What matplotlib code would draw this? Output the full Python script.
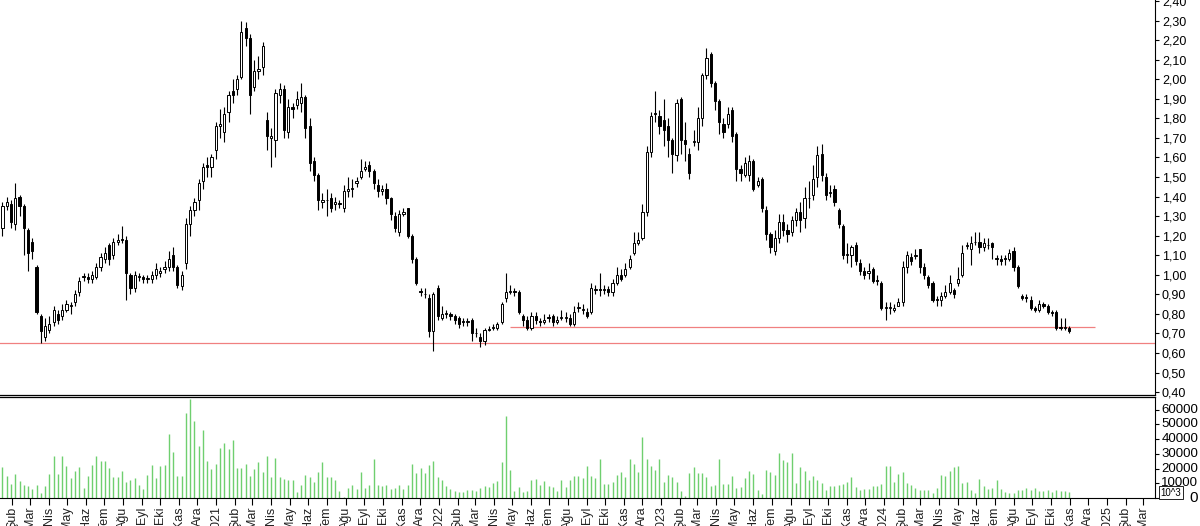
import matplotlib
matplotlib.use("Agg")
import matplotlib.pyplot as plt
import matplotlib.dates as mdates
import matplotlib.transforms as mtransforms
import numpy as np
import pandas as pd

plt.rcParams['font.family'] = ['Liberation Sans', 'DejaVu Sans']

opens = [1.24,1.35,1.36,1.26,1.40,1.35,1.23,1.17,1.04,0.79,0.68,0.72,0.76,0.80,0.79,0.82,0.84,0.86,0.91,0.995,
0.99,0.98,0.99,1.04,1.08,1.15,1.10,1.17,1.185,1.18,1.00,0.93,0.99,0.99,0.98,0.98,1.00,1.01,1.03,1.04,
1.10,1.04,0.94,1.06,1.26,1.33,1.38,1.48,1.56,1.55,1.64,1.76,1.73,1.83,1.94,1.95,2.01,2.26,2.21,1.96,
2.04,2.06,1.79,1.70,1.69,1.92,1.95,1.73,1.86,1.87,1.88,1.91,1.76,1.58,1.51,1.37,1.38,1.39,1.36,1.365,
1.34,1.43,1.44,1.47,1.50,1.54,1.56,1.53,1.46,1.43,1.44,1.39,1.30,1.22,1.31,1.34,1.20,1.08,0.915,0.90,
0.88,0.71,0.93,0.78,0.80,0.80,0.79,0.78,0.765,0.76,0.77,0.70,0.68,0.66,0.725,0.73,0.73,0.76,0.88,0.91,
0.915,0.91,0.79,0.77,0.73,0.79,0.765,0.76,0.785,0.79,0.76,0.78,0.78,0.78,0.75,0.83,0.82,0.81,0.81,0.92,
0.925,0.92,0.925,0.91,0.96,1.00,1.00,1.04,1.11,1.16,1.19,1.32,1.63,1.825,1.81,1.79,1.76,1.69,1.61,1.90,
1.69,1.62,1.68,1.68,1.80,2.02,2.13,1.98,1.89,1.77,1.77,1.84,1.72,1.54,1.51,1.51,1.58,1.46,1.49,1.33,
1.21,1.12,1.19,1.27,1.23,1.22,1.28,1.32,1.29,1.39,1.41,1.50,1.62,1.50,1.42,1.44,1.33,1.25,1.10,1.10,
1.15,1.06,1.02,1.01,1.03,0.975,0.96,0.83,0.83,0.82,0.84,0.86,1.04,1.09,1.095,1.13,1.04,0.99,0.96,0.875,
0.87,0.89,0.91,0.92,0.96,1.00,1.145,1.13,1.165,1.17,1.14,1.15,1.16,1.085,1.08,1.085,1.08,1.12,1.04,0.89,
0.885,0.87,0.83,0.82,0.85,0.84,0.81,0.81,0.735,0.73,0.73]
closes = [1.35,1.37,1.27,1.39,1.35,1.24,1.11,1.12,0.81,0.71,0.74,0.75,0.82,0.77,0.82,0.85,0.84,0.90,0.97,0.99,
0.98,1.00,1.04,1.09,1.11,1.08,1.17,1.18,1.18,1.01,0.93,1.00,0.995,0.98,0.98,1.00,1.03,1.02,1.04,1.08,
1.04,0.95,1.00,1.26,1.33,1.37,1.47,1.55,1.55,1.60,1.76,1.77,1.82,1.92,1.92,2.00,2.24,2.21,1.92,2.04,
2.05,2.17,1.71,1.71,1.93,1.95,1.74,1.86,1.85,1.90,1.91,1.75,1.57,1.51,1.38,1.38,1.38,1.34,1.37,1.36,
1.43,1.44,1.44,1.48,1.53,1.55,1.53,1.47,1.43,1.44,1.39,1.31,1.24,1.31,1.32,1.20,1.08,0.96,0.91,0.90,
0.71,0.90,0.79,0.80,0.80,0.79,0.77,0.75,0.76,0.765,0.70,0.70,0.66,0.72,0.72,0.735,0.75,0.85,0.91,0.915,
0.91,0.81,0.77,0.73,0.79,0.77,0.76,0.77,0.78,0.76,0.77,0.785,0.78,0.75,0.81,0.835,0.825,0.79,0.93,0.925,
0.92,0.925,0.91,0.96,1.00,0.98,1.03,1.08,1.16,1.18,1.32,1.63,1.81,1.82,1.76,1.74,1.69,1.62,1.88,1.69,
1.67,1.52,1.685,1.80,2.02,2.11,1.98,1.89,1.78,1.73,1.82,1.71,1.54,1.52,1.57,1.58,1.44,1.48,1.34,1.21,
1.14,1.19,1.27,1.23,1.21,1.28,1.32,1.28,1.39,1.395,1.49,1.61,1.51,1.41,1.425,1.37,1.26,1.10,1.10,1.14,
1.07,1.02,1.00,1.02,0.97,0.97,0.83,0.83,0.83,0.83,0.86,1.04,1.10,1.07,1.10,1.04,1.00,0.95,0.87,0.87,
0.89,0.91,0.96,0.90,0.98,1.11,1.15,1.16,1.17,1.14,1.16,1.15,1.14,1.08,1.07,1.08,1.11,1.04,0.94,0.88,
0.88,0.83,0.82,0.85,0.84,0.81,0.805,0.73,0.73,0.735,0.71]
highs = [1.37,1.40,1.38,1.47,1.41,1.36,1.24,1.19,1.05,0.80,0.78,0.79,0.84,0.82,0.85,0.87,0.86,0.92,0.99,1.01,
1.01,1.02,1.06,1.11,1.14,1.16,1.19,1.21,1.25,1.20,1.01,1.02,1.01,1.00,1.00,1.02,1.06,1.04,1.07,1.12,
1.14,1.05,1.02,1.29,1.35,1.39,1.49,1.57,1.60,1.62,1.78,1.85,1.86,1.94,2.00,2.02,2.30,2.29,2.23,2.10,
2.12,2.19,1.83,1.75,1.95,1.98,1.97,1.90,1.88,1.94,1.98,1.92,1.80,1.60,1.52,1.42,1.44,1.42,1.40,1.38,
1.46,1.50,1.49,1.50,1.59,1.58,1.58,1.54,1.49,1.46,1.47,1.40,1.32,1.33,1.34,1.34,1.21,1.09,0.93,0.93,
0.90,0.91,0.95,0.84,0.82,0.81,0.80,0.79,0.78,0.78,0.78,0.73,0.70,0.73,0.74,0.75,0.76,0.86,1.01,0.95,
0.93,0.92,0.80,0.79,0.81,0.81,0.78,0.80,0.80,0.80,0.79,0.82,0.81,0.80,0.84,0.86,0.85,0.83,0.96,0.95,
1.01,0.95,0.94,0.98,1.04,1.03,1.06,1.10,1.22,1.22,1.36,1.66,1.83,1.94,1.84,1.90,1.80,1.70,1.90,1.91,
1.78,1.65,1.74,1.86,2.03,2.16,2.14,1.99,1.90,1.80,1.86,1.86,1.73,1.56,1.60,1.61,1.59,1.50,1.50,1.35,
1.22,1.23,1.31,1.31,1.26,1.30,1.34,1.37,1.45,1.48,1.56,1.66,1.67,1.52,1.46,1.46,1.34,1.26,1.16,1.15,
1.17,1.08,1.04,1.06,1.04,1.00,0.97,0.86,0.86,0.85,0.88,1.07,1.12,1.11,1.13,1.13,1.06,1.00,0.97,0.89,
0.91,0.95,1.00,0.93,1.04,1.15,1.17,1.20,1.22,1.22,1.19,1.19,1.17,1.10,1.10,1.10,1.13,1.14,1.05,0.90,
0.90,0.89,0.84,0.87,0.86,0.85,0.82,0.82,0.78,0.78,0.74]
lows = [1.20,1.33,1.24,1.23,1.30,1.10,1.02,1.08,0.80,0.65,0.66,0.70,0.74,0.75,0.77,0.81,0.80,0.84,0.89,0.97,
0.96,0.96,0.98,1.02,1.06,1.05,1.08,1.15,1.16,0.87,0.90,0.91,0.97,0.96,0.96,0.96,0.98,0.99,1.01,1.02,
1.02,0.93,0.92,1.03,1.20,1.30,1.33,1.44,1.50,1.50,1.59,1.70,1.68,1.78,1.88,1.92,2.00,2.17,1.82,1.94,
2.00,2.02,1.64,1.55,1.60,1.88,1.70,1.70,1.80,1.85,1.83,1.70,1.53,1.48,1.33,1.34,1.30,1.32,1.33,1.34,
1.32,1.40,1.40,1.45,1.49,1.53,1.50,1.44,1.40,1.41,1.36,1.28,1.22,1.20,1.30,1.19,1.06,0.95,0.89,0.88,
0.68,0.61,0.77,0.77,0.78,0.77,0.75,0.73,0.74,0.74,0.66,0.68,0.63,0.64,0.71,0.72,0.72,0.75,0.86,0.90,
0.89,0.80,0.74,0.72,0.72,0.75,0.74,0.75,0.76,0.74,0.75,0.77,0.76,0.74,0.74,0.81,0.80,0.78,0.80,0.90,
0.89,0.90,0.89,0.89,0.95,0.97,0.99,1.03,1.10,1.15,1.18,1.30,1.60,1.78,1.72,1.66,1.60,1.52,1.58,1.62,
1.58,1.49,1.66,1.64,1.76,2.00,1.96,1.84,1.72,1.70,1.75,1.68,1.48,1.48,1.50,1.48,1.43,1.45,1.32,1.18,
1.11,1.10,1.16,1.20,1.17,1.20,1.25,1.22,1.24,1.34,1.38,1.45,1.48,1.38,1.40,1.35,1.24,1.08,1.06,1.04,
1.05,1.00,0.98,0.98,0.96,0.95,0.82,0.77,0.80,0.81,0.84,0.84,1.01,1.05,1.08,1.01,0.98,0.93,0.86,0.84,
0.84,0.88,0.90,0.88,0.94,0.99,1.13,1.05,1.15,1.11,1.12,1.13,1.08,1.05,1.05,1.05,1.07,1.02,0.93,0.87,
0.86,0.82,0.81,0.81,0.83,0.80,0.79,0.72,0.72,0.72,0.70]

volume_k = [21,14.7,9.7,16.5,11.3,9,8.4,6.3,8.6,3.4,7.9,16.5,28.7,16.5,28.7,21.9,13.6,18.3,21,6.8,
15.1,22.4,28.7,25.3,25.3,20.1,14.2,14.2,18.3,11.1,12.4,13.6,9,6.1,15.4,22.4,13.8,21.5,22.4,43.4,
31.2,15.1,15.1,58,67,52.4,35.5,46.1,25.3,19.7,23.3,34.1,37.7,33.4,39.6,20.3,20.3,23.3,14.7,19.7,
24.4,17.9,28.7,14.2,27.1,14.2,12.9,12,12.4,4.1,9,15.6,14.2,11.1,17.9,24.4,14.2,14.2,12.4,4.5,
0.7,6.8,8.8,6.1,17.4,6.6,8.8,26.4,9,8.4,9,6.1,6.8,9,6.3,9,23.3,17,20.1,17,
22.4,25.5,14.2,12.4,7.9,6.1,5,4.3,4.3,5.2,5.7,4.5,6.8,8.4,7.5,10.2,11.8,24.4,55.8,18.8,
4.5,7.5,3.8,4.5,12,12.9,9,11.3,7.9,7.7,4.5,12.4,7.5,12.4,15.1,15.1,13.6,21.5,15.1,13.3,
26.4,9.7,9.7,10.6,15.8,17.4,14.2,26.7,23.3,17.4,41.4,26.4,21.5,18.8,26.4,10.6,15.8,14.2,11.1,4.5,
1.1,17,21,17,17,14.2,7.9,9,26.7,9.7,9.7,15.1,6.8,7.5,13.6,18.1,16.5,5.7,2.9,18.8,
17.4,15.8,30.5,26,24.2,30.5,10.2,21,18.3,12.4,15.1,12,10.2,5.7,7.9,8.4,9,9.7,10.8,14.2,
7.5,5.7,6.1,6.1,7.9,8.4,9.5,22.1,21.9,10.6,16.3,17.4,10.2,9,6.8,5.7,5.2,5.7,3.4,6.8,
15.4,14.7,18.5,20.8,21.5,10.2,11.1,5.7,3.4,12.9,7.9,6.3,6.8,12.4,6.1,4.1,3.4,3.4,5.2,5.7,
6.6,5.2,6.6,5,4.7,5.5,4.3,5.2,4.6,5.0,4.4]

volume_ticks = [0, 10000, 20000, 30000, 40000, 50000, 60000]
month_names = ["", "Şub", "Mar", "Nis", "May", "Haz", "Tem", "Ağu", "Eyl", "Eki", "Kas", "Ara"]
support_low = 0.65
support_high = 0.735

n = len(opens)
dates = pd.date_range(end="2024-10-31", periods=n, freq="7D")
xd = mdates.date2num(dates)

fig = plt.figure(figsize=(12, 5.26), dpi=100)
ax = fig.add_axes([0.0, 0.249, 0.9625, 0.751])
axv = fig.add_axes([0.0, 28 / 526, 0.9625, 101 / 526], sharex=ax)

w = 3.6
for x, o, h, l, c in zip(xd, opens, highs, lows, closes):
    up = c >= o
    ax.vlines(x, l, h, color="black", lw=0.8, zorder=1)
    ax.bar(x, max(abs(c - o), 0.004), bottom=min(o, c), width=w,
           color="white" if up else "black", edgecolor="black", lw=0.7, zorder=2)

x_left = xd[0] - 4
x_right = mdates.date2num(pd.Timestamp("2025-03-21"))
ax.set_xlim(x_left, x_right)
ax.set_ylim(0.385, 2.405)

ax.axhline(support_low, color="#f08080", lw=0.9, zorder=0)
ax.hlines(support_high, xd[119], xd[-1] + 42, color="#f08080", lw=0.9, zorder=0)

yt = np.round(np.arange(0.4, 2.41, 0.1), 2)
ax.set_yticks(yt)
ax.set_yticklabels([f"{v:.2f}".replace(".", ",") for v in yt])
for a in (ax, axv):
    a.yaxis.tick_right()
    a.spines["left"].set_visible(False)
    a.spines["top"].set_visible(False)
ax.tick_params(axis="y", labelsize=9, length=3, pad=2)
ax.spines["bottom"].set_linewidth(0.9)
ax.tick_params(axis="x", bottom=False, labelbottom=False)

m = len(volume_k)
vx = xd[:m] if m <= n else np.arange(m)
axv.vlines(vx, 0, np.array(volume_k[:n]) * 1000, color="#6fcf6f", lw=1.0)
axv.set_ylim(0, 68700)
axv.set_yticks(volume_ticks)
axv.tick_params(axis="y", length=3, labelright=False)
trans = mtransforms.blended_transform_factory(axv.transAxes, axv.transData)
for v in volume_ticks:
    axv.text(1.0375, v, str(v), transform=trans, ha="right", va="center",
             fontsize=9.5 if v else 11, clip_on=False)
axv.spines["top"].set_visible(True)
axv.spines["top"].set_linewidth(0.9)

months = pd.date_range("2020-02-01", "2025-03-01", freq="MS")
axv.set_xticks(mdates.date2num(months))
axv.set_xticklabels([str(mo.year) if mo.month == 1 else month_names[mo.month - 1] for mo in months],
                    rotation=90, fontsize=9, color="#222222")
axv.tick_params(axis="x", length=5, pad=1)
axv.text(1.005, 0.05, "10^3", transform=axv.transAxes, fontsize=7, ha="left", va="center",
         bbox=dict(boxstyle="square,pad=0.15", fc="white", ec="black", lw=0.6))

fig.savefig("out.png", dpi=100)
